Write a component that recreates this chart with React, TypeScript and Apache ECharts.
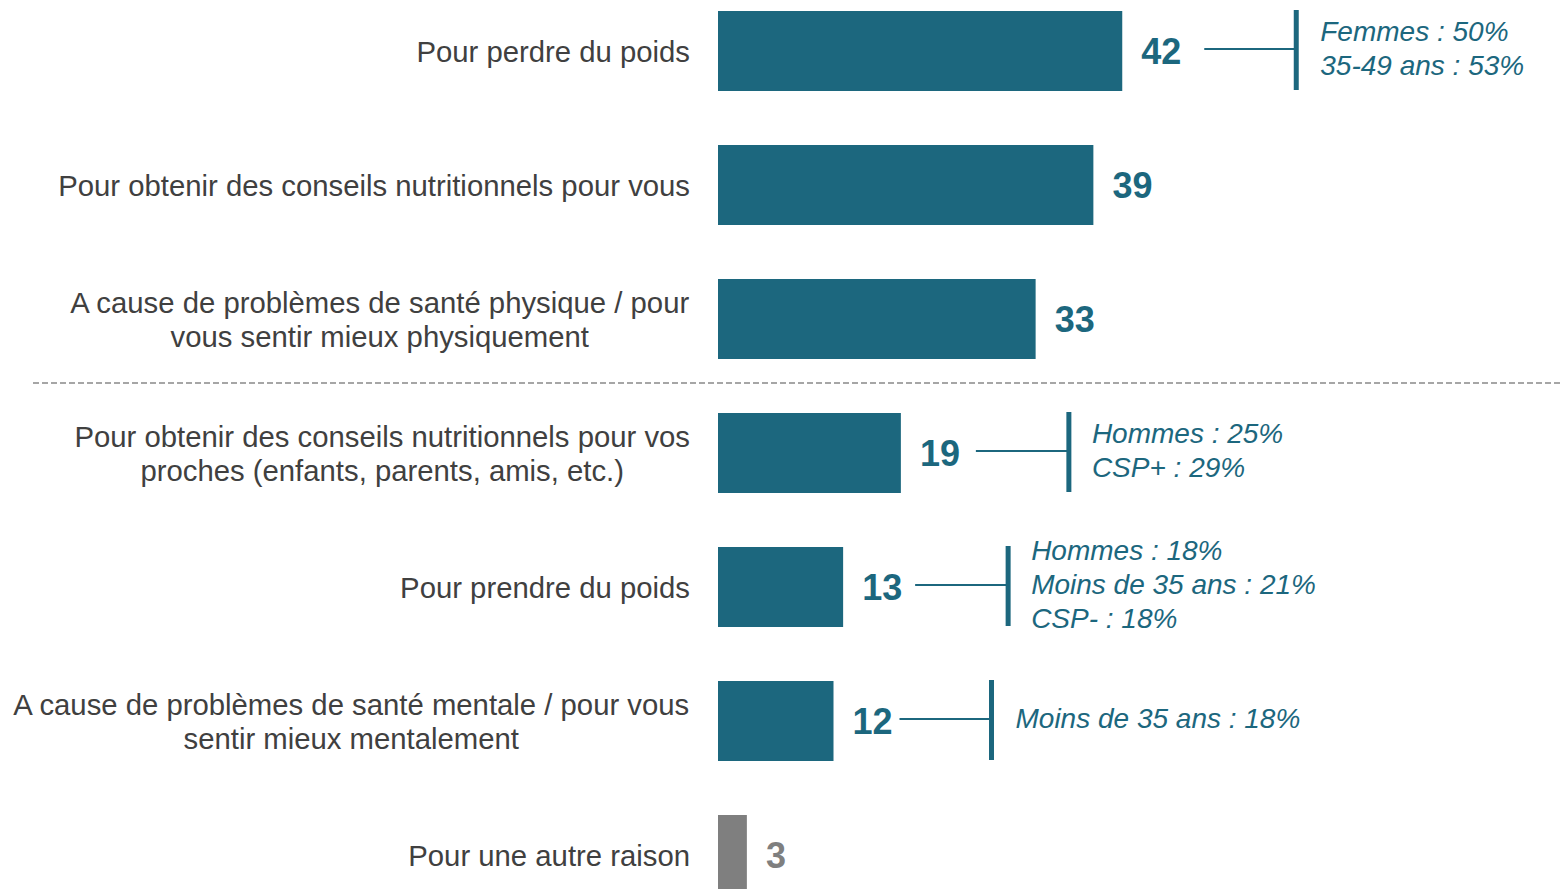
import React, { useEffect, useRef } from "react";
import * as echarts from "echarts";

const categories = [
  "Pour perdre du poids",
  "Pour obtenir des conseils nutritionnels pour vous",
  "A cause de problèmes de santé physique / pour\nvous sentir mieux physiquement",
  "Pour obtenir des conseils nutritionnels pour vos\nproches (enfants, parents, amis, etc.)",
  "Pour prendre du poids",
  "A cause de problèmes de santé mentale / pour vous\nsentir mieux mentalement",
  "Pour une autre raison",
];
const values = [42, 39, 33, 19, 13, 12, 3];
const isOther = [false, false, false, false, false, false, true];

const annotationIndex = [0, 3, 4, 5];
const annotationLines = [
  ["Femmes : 50%", "35-49 ans : 53%"],
  ["Hommes : 25%", "CSP+ : 29%"],
  ["Hommes : 18%", "Moins de 35 ans : 21%", "CSP- : 18%"],
  ["Moins de 35 ans : 18%"],
];
// offsets (px) from bar end: connector start, connector end / vertical bar, text start
const annotationLayout = [
  { start: 82, end: 174, text: 198 },
  { start: 75, end: 168, text: 191 },
  { start: 72, end: 165, text: 188 },
  { start: 66, end: 158, text: 182 },
];

const TEAL = "#1c677e";
const GREY = "#7f7f7f";
const TEXT = "#404040";
const FONT = "'Liberation Sans', Arial, sans-serif";
const OFFSET_TOP = 16;

export default function App() {
  const ref = useRef<HTMLDivElement>(null);
  useEffect(() => {
    if (!ref.current) return;
    const chart = echarts.init(ref.current, null, { renderer: "svg" });
    chart.setOption({
      animation: false,
      textStyle: { fontFamily: FONT },
      grid: { left: 718, right: 74, top: 0, bottom: 0, containLabel: false },
      xAxis: {
        type: "value",
        min: 0,
        max: 80,
        show: false,
      },
      yAxis: {
        type: "category",
        inverse: true,
        data: categories,
        axisLine: { show: false },
        axisTick: { show: false },
        splitLine: { show: false },
        axisLabel: {
          margin: 28,
          formatter: (v: string) =>
            v
              .split("\n")
              .map((l) => `{c|${l}}`)
              .join("\n"),
          rich: {
            c: {
              align: "center",
              fontSize: 29.3,
              lineHeight: 34,
              color: TEXT,
              fontFamily: FONT,
            },
          },
        },
      },
      series: [
        {
          type: "bar",
          barWidth: 80,
          data: values.map((v, i) => ({
            value: v,
            itemStyle: { color: isOther[i] ? GREY : TEAL },
            label: { color: isOther[i] ? GREY : TEAL },
          })),
          label: {
            show: true,
            position: "right",
            distance: 19,
            fontSize: 36,
            fontWeight: "bold",
            fontFamily: FONT,
          },
        },
      ],
    });

    const graphics: any[] = [];
    const c2 = chart.convertToPixel({ gridIndex: 0 }, [0, 2]) as number[];
    const c3 = chart.convertToPixel({ gridIndex: 0 }, [0, 3]) as number[];
    const dashY = (c2[1] + c3[1]) / 2 - 3;
    graphics.push({
      type: "line",
      shape: { x1: 33, y1: dashY, x2: 1562, y2: dashY },
      style: { stroke: "#a6a6a6", lineWidth: 2, lineDash: [6, 3] },
    });

    annotationIndex.forEach((idx, k) => {
      const p = chart.convertToPixel({ gridIndex: 0 }, [values[idx], idx]) as number[];
      const lay = annotationLayout[k];
      const cy = p[1] - 2;
      graphics.push({
        type: "line",
        shape: { x1: p[0] + lay.start, y1: cy, x2: p[0] + lay.end, y2: cy },
        style: { stroke: TEAL, lineWidth: 2 },
      });
      graphics.push({
        type: "rect",
        shape: { x: p[0] + lay.end - 2.5, y: p[1] - 41, width: 5, height: 80 },
        style: { fill: TEAL },
      });
      graphics.push({
        type: "text",
        x: p[0] + lay.text,
        y: cy - 1,
        style: {
          text: annotationLines[k].join("\n"),
          font: `italic 28px ${FONT}`,
          fill: TEAL,
          lineHeight: 34,
          align: "left",
          verticalAlign: "middle",
        },
      });
    });
    chart.setOption({ graphic: graphics });

    return () => chart.dispose();
  }, []);
  return (
    <div
      style={{
        position: "absolute",
        left: 0,
        top: 0,
        width: 1562,
        height: 889,
        overflow: "hidden",
      }}
    >
      <div
        ref={ref}
        style={{
          position: "absolute",
          left: 0,
          top: -OFFSET_TOP,
          width: 1562,
          height: 938,
        }}
      />
    </div>
  );
}
